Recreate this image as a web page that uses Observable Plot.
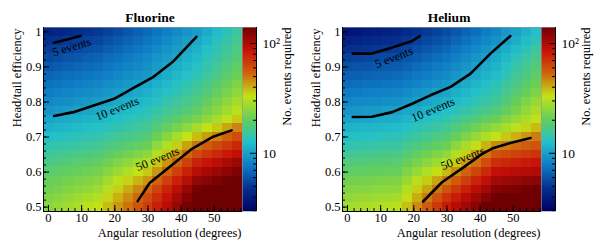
<!DOCTYPE html>
<html><head><meta charset="utf-8">
<script src="https://cdn.jsdelivr.net/npm/d3@7"></script>
<script src="https://cdn.jsdelivr.net/npm/@observablehq/plot@0.6"></script>
<style>
body{margin:0;background:#fff;}
#chart{position:relative;width:598px;height:244px;overflow:hidden;background:#fff;}
#chart > div{position:absolute;top:0;}
#chart svg, #chart svg text{font-family:"Liberation Serif","Times New Roman",serif !important;}
</style></head><body><div id="chart"></div>
<script>
// ---- data ----
const angles = [0,3,6,9,12,15,18,21,24,27,30,33,36,39,42,45,48,51,54,57];
const efficiencies = [1.0,0.975,0.95,0.925,0.9,0.875,0.85,0.825,0.8,0.775,0.75,0.725,0.7,0.675,0.65,0.625,0.6,0.575,0.55,0.525,0.5];

const fluorineEvents = [
[4.2,4.35,4.5,4.66,4.83,5.0,5.33,5.69,6.07,6.47,6.9,7.4,7.94,8.52,9.14,9.8,10.9,12.1,13.5,15],
[4.7,4.85,5.0,5.16,5.33,5.5,5.84,6.19,6.57,6.97,7.4,7.95,8.54,9.18,9.87,10.6,11.7,13,14.4,16],
[5.15,5.31,5.47,5.64,5.82,6.0,6.34,6.7,7.08,7.48,7.9,8.49,9.12,9.79,10.5,11.3,12.5,13.9,15.4,17],
[5.6,5.79,5.98,6.18,6.38,6.6,6.94,7.3,7.68,8.08,8.5,9.11,9.76,10.4,11.2,12,13.3,14.7,16.3,18],
[6.1,6.29,6.48,6.68,6.89,7.1,7.45,7.81,8.19,8.58,9.0,9.66,10.4,11.1,11.9,12.8,14.2,15.8,17.6,19.5],
[6.7,6.89,7.08,7.28,7.49,7.7,8.05,8.41,8.79,9.19,9.6,10.3,11.1,11.9,12.8,13.7,15.2,17,18.9,21],
[7.2,7.41,7.62,7.84,8.07,8.3,8.68,9.08,9.5,9.94,10.4,11.2,12,12.9,13.8,14.8,16.5,18.4,20.6,23],
[7.8,8.03,8.26,8.5,8.74,9,9.4,9.82,10.3,10.7,11.2,12,12.9,13.9,14.9,16,17.9,20,22.4,25],
[8.4,8.66,8.93,9.21,9.5,9.8,10.2,10.7,11.2,11.7,12.2,13.1,14.1,15.2,16.3,17.5,19.7,22.1,24.9,28],
[9.2,9.48,9.77,10.1,10.4,10.7,11.2,11.7,12.2,12.7,13.3,14.4,15.5,16.7,18.1,19.5,21.9,24.6,27.6,31],
[10.2,10.5,10.8,11.1,11.4,11.7,12.2,12.7,13.3,13.9,14.5,15.8,17.3,18.9,20.6,22.5,25.3,28.5,32,36],
[11.2,11.5,11.8,12.1,12.5,12.8,13.4,14,14.6,15.3,16,17.9,20,22.4,25,28,31.9,36.3,41.3,47],
[12.4,12.7,13.1,13.5,13.8,14.2,14.9,15.6,16.4,17.2,18,20.9,24.3,28.2,32.7,38,42.6,47.7,53.5,60],
[13.8,14.2,14.6,15,15.4,15.8,16.7,17.7,18.7,19.8,21,25,29.7,35.3,42,50,55.3,61.2,67.8,75],
[15.2,15.7,16.1,16.6,17.1,17.6,18.9,20.3,21.7,23.3,25,30,36,43.1,51.7,62,68.1,74.7,82,90],
[16.8,17.3,17.9,18.5,19.1,19.7,21.4,23.3,25.4,27.6,30,36.3,44,53.2,64.4,78,85,92.6,101,110],
[18.5,19.2,19.8,20.5,21.2,22,24.3,26.8,29.6,32.6,36,43.7,53.1,64.4,78.2,95,103,111,120,130],
[20,20.8,21.7,22.6,23.5,24.5,27.5,31,34.8,39.1,44,53.3,64.6,78.3,94.9,115,122,129,137,145],
[21.5,22.5,23.6,24.6,25.8,27,30.9,35.4,40.5,46.3,53,63.9,77,92.9,112,135,141,147,153,160],
[23,24.3,25.6,27,28.4,30,34.5,39.6,45.5,52.2,60,72.1,86.6,104,125,150,155,160,165,170],
[24.5,26,27.6,29.3,31.1,33,37.9,43.5,50,57.4,66,78.8,94,112,134,160,165,170,175,180]
];

const heliumEvents = [
[3.6,3.73,3.87,4.0,4.15,4.3,4.55,4.81,5.09,5.39,5.7,6.16,6.66,7.19,7.77,8.4,9.28,10.2,11.3,12.5],
[4.1,4.21,4.33,4.45,4.58,4.7,4.97,5.25,5.55,5.87,6.2,6.68,7.2,7.75,8.35,9,9.96,11,12.2,13.5],
[4.7,4.79,4.87,4.96,5.05,5.15,5.44,5.76,6.09,6.43,6.8,7.33,7.9,8.52,9.18,9.9,11,12.2,13.5,15],
[5.3,5.38,5.46,5.54,5.62,5.7,6.01,6.33,6.66,7.02,7.4,7.97,8.58,9.23,9.94,10.7,11.9,13.3,14.8,16.5],
[5.9,5.98,6.06,6.14,6.22,6.3,6.61,6.93,7.27,7.63,8,8.6,9.25,9.95,10.7,11.5,12.9,14.4,16.1,18],
[6.4,6.5,6.6,6.69,6.8,6.9,7.21,7.54,7.87,8.23,8.6,9.24,9.92,10.7,11.4,12.3,13.8,15.5,17.4,19.5],
[7,7.1,7.2,7.3,7.4,7.5,7.85,8.21,8.59,8.98,9.4,10.1,10.8,11.6,12.4,13.3,14.9,16.7,18.7,21],
[7.7,7.8,7.9,8,8.1,8.2,8.6,9.02,9.46,9.92,10.4,11.1,11.8,12.6,13.5,14.4,16.2,18.2,20.5,23],
[8.4,8.52,8.63,8.75,8.88,9,9.42,9.86,10.3,10.8,11.3,12.1,12.9,13.7,14.6,15.6,17.7,20.1,22.9,26],
[9.2,9.35,9.51,9.67,9.83,10,10.5,10.9,11.4,12,12.5,13.4,14.3,15.3,16.4,17.5,19.9,22.5,25.6,29],
[10.2,10.4,10.5,10.7,10.8,11,11.5,12.1,12.7,13.3,14,15.2,16.5,17.9,19.4,21,23.3,25.9,28.8,32],
[11.3,11.5,11.7,11.8,12,12.2,12.8,13.5,14.2,15,15.8,17.5,19.3,21.3,23.5,26,28.6,31.4,34.6,38],
[12.5,12.7,12.9,13.1,13.3,13.5,14.3,15.1,16,17,18,20.3,22.9,25.9,29.2,33,36.2,39.8,43.7,48],
[14,14.2,14.4,14.6,14.8,15,16,17.2,18.4,19.6,21,24.6,28.7,33.6,39.3,46,48.7,51.7,54.8,58],
[15.5,15.7,16,16.2,16.5,16.7,18.1,19.6,21.3,23.1,25,29.6,35,41.4,49,58,60.8,63.7,66.8,70],
[17.5,17.7,17.9,18.1,18.3,18.5,20.4,22.4,24.7,27.2,30,35.7,42.6,50.7,60.4,72,75,78.2,81.5,85],
[19.5,19.7,19.9,20.1,20.3,20.5,23.2,26.2,29.7,33.6,38,45,53.2,62.9,74.4,88,90.9,93.8,96.9,100],
[21.5,21.8,22.1,22.4,22.7,23,26.6,30.9,35.8,41.4,48,56.1,65.7,76.8,89.8,105,109,112,116,120],
[23.5,23.9,24.3,24.7,25.1,25.5,30.1,35.4,41.7,49.2,58,67.6,78.9,91.9,107,125,129,132,136,140],
[25.5,26,26.5,27,27.5,28,33.6,40.4,48.5,58.3,70,81,93.7,108,125,145,147,150,152,155],
[27.5,28.2,28.9,29.6,30.3,31,37.7,45.7,55.6,67.5,82,93.7,107,122,140,160,162,165,167,170]
];

// contour polylines: [angle, efficiency]
const fluorine5  = [[1.7,0.969],[9.7,0.988]];
const fluorine10 = [[1.7,0.760],[7.5,0.771],[19.8,0.809],[25.8,0.841],[31.4,0.870],[37.4,0.914],[44.6,0.986]];
const fluorine50 = [[26.9,0.517],[30.5,0.569],[36.4,0.614],[42.9,0.664],[49.4,0.700],[55.2,0.719]];
const helium5  = [[1.6,0.938],[7.4,0.938],[13.0,0.954],[19.5,0.974],[21.8,0.988]];
const helium10 = [[1.6,0.757],[7.4,0.758],[13.5,0.771],[19.5,0.795],[25.0,0.819],[31.1,0.843],[37.1,0.881],[43.1,0.938],[49.1,0.988]];
const helium50 = [[22.8,0.516],[28.5,0.571],[35.1,0.614],[40.6,0.652],[43.6,0.667],[49.1,0.683],[55.2,0.697]];
const contourNames = ["5 events","10 events","50 events"];
// label anchor points [angle, efficiency]
const fluorineLabelAt = [[7.0,0.957],[20.7,0.781],[32.9,0.637]];
const heliumLabelAt   = [[14.0,0.927],[25.8,0.778],[34.7,0.639]];

const xTicks = [0,10,20,30,40,50];
const xMinor = [0,2,4,6,8,10,12,14,16,18,20,22,24,26,28,30,32,34,36,38,40,42,44,46,48,50,52,54,56,58];
const yTicks = [0.5,0.6,0.7,0.8,0.9,1.0];
const yMinor = [0.5,0.52,0.54,0.56,0.58,0.6,0.62,0.64,0.66,0.68,0.7,0.72,0.74,0.76,0.78,0.8,0.82,0.84,0.86,0.88,0.9,0.92,0.94,0.96,0.98,1.0];
const cbTicks = [10,100];
const cbTickLabels = ["10","10²"];
const cbMinor = [3,4,5,6,7,8,9,20,30,40,50,60,70,80,90];
const titles = ["Fluorine","Helium"];

// ---- styling ----
const FONT = "Liberation Serif";
const W = 299, H = 244, ML = 43, MR = 57, MT = 27, MB = 33;
const FW = W - ML - MR, FH = H - MT - MB;
const CBW = 14;
const zDomain = [2.95, 140];
const rainbow = d3.piecewise(d3.interpolateRgb, [
  "rgb(0,0,99)","rgb(5,48,142)","rgb(15,124,198)","rgb(35,192,201)","rgb(102,206,90)",
  "rgb(196,226,22)","rgb(208,97,13)","rgb(199,16,8)","rgb(110,0,2)"]);
const colorOpt = {type: "log", domain: zDomain, clamp: true, interpolate: rainbow};
const labelAngles = [-17, -22, -22];
const heliumLabelAngles = [-21, -23, -21];
const halfA = (angles[1] - angles[0]) / 2;
const halfE = (efficiencies[0] - efficiencies[1]) / 2;
const txt = {fontFamily: FONT, fill: "black"};

function cells(matrix) {
  const out = [];
  efficiencies.forEach((e, i) => angles.forEach((a, j) => out.push({a, e, n: matrix[i][j]})));
  return out;
}

function panel(title, matrix, contours, labelAt, angles_) {
  const labels = labelAt.map((p, i) => ({x: p[0], y: p[1], t: contourNames[i], r: angles_[i]}));
  return Plot.plot({
    width: W, height: H, marginLeft: ML, marginRight: MR, marginTop: MT, marginBottom: MB,
    style: {fontFamily: FONT, fontSize: "13px", background: "transparent", color: "black", overflow: "visible"},
    x: {domain: [angles[0] - halfA, angles[angles.length - 1] + halfA]},
    y: {domain: [efficiencies[efficiencies.length - 1] - halfE, efficiencies[0] + halfE]},
    color: colorOpt,
    marks: [
      Plot.rect(cells(matrix), {x1: d => d.a - halfA, x2: d => d.a + halfA, y1: d => d.e - halfE, y2: d => d.e + halfE, fill: "n", shapeRendering: "crispEdges"}),
      ...contours.map(c => Plot.line(c, {x: d => d[0], y: d => d[1], stroke: "black", strokeWidth: 2.6, strokeLinejoin: "round"})),
      ...labels.map(l => Plot.text([l], {x: "x", y: "y", text: "t", rotate: l.r, fontSize: 12, ...txt})),
      Plot.frame({stroke: "#999", strokeWidth: 0.6}),
      Plot.ruleX(xMinor, {x: d => d, insetTop: FH - 3, stroke: "black"}),
      Plot.ruleX(xTicks, {x: d => d, insetTop: FH - 6, stroke: "black"}),
      Plot.ruleY(yMinor, {y: d => d, insetRight: FW - 3, stroke: "black"}),
      Plot.ruleY(yTicks, {y: d => d, insetRight: FW - 6, stroke: "black"}),
      Plot.ruleX([angles[0] - halfA], {stroke: "black"}),
      Plot.ruleY([efficiencies[efficiencies.length - 1] - halfE], {stroke: "black"}),
      Plot.axisX({ticks: xTicks, tickSize: 0, tickPadding: 2, label: null, tickFormat: d => String(d), fontSize: 12.5, fontFamily: FONT}),
      Plot.axisY({ticks: yTicks, tickSize: 0, tickPadding: 2, label: null, tickFormat: d => d === 1 ? "1" : d.toFixed(1), fontSize: 12.5, fontFamily: FONT}),
      Plot.text([title], {frameAnchor: "top", text: d => d, dx: 7, dy: -10, fontWeight: "bold", fontSize: 13.5, lineAnchor: "middle", ...txt}),
      Plot.text(["Angular resolution (degrees)"], {frameAnchor: "bottom-right", text: d => d, dx: -1, dy: 21, textAnchor: "end", lineAnchor: "middle", fontSize: 12.5, ...txt}),
      Plot.text(["Head/tail efficiency"], {frameAnchor: "top-left", text: d => d, dx: -27, dy: 1, rotate: -90, textAnchor: "end", lineAnchor: "middle", fontSize: 12.5, ...txt})
    ]
  });
}

function colorbar() {
  const lo = Math.log10(zDomain[0]), hi = Math.log10(zDomain[1]), N = 184;
  const ramp = d3.range(N).map(i => {
    const y1 = 10 ** (lo + (hi - lo) * i / N), y2 = 10 ** (lo + (hi - lo) * (i + 1) / N);
    return {y1, y2, v: Math.sqrt(y1 * y2)};
  });
  return Plot.plot({
    width: CBW + 43, height: H, marginLeft: 0, marginRight: 43, marginTop: MT, marginBottom: MB,
    style: {fontFamily: FONT, fontSize: "13px", background: "transparent", color: "black", overflow: "visible"},
    x: {domain: [0, 1], axis: null},
    y: {type: "log", domain: zDomain},
    color: colorOpt,
    marks: [
      Plot.rect(ramp, {x1: 0, x2: 1, y1: "y1", y2: "y2", fill: "v", shapeRendering: "crispEdges"}),
      Plot.frame({stroke: "#999", strokeWidth: 0.6}),
      Plot.ruleX([1], {stroke: "black"}),
      Plot.ruleY(cbMinor, {y: d => d, insetLeft: CBW - 3, stroke: "black"}),
      Plot.ruleY(cbTicks, {y: d => d, insetLeft: CBW - 6, stroke: "black"}),
      Plot.axisY({anchor: "right", ticks: cbTicks, tickSize: 0, tickPadding: 6, label: null, tickFormat: d => cbTickLabels[cbTicks.indexOf(d)], fontSize: 13.5, fontFamily: FONT}),
      Plot.text(["No. events required"], {frameAnchor: "top-right", text: d => d, dx: 30, dy: 0, rotate: -90, textAnchor: "end", lineAnchor: "middle", fontSize: 12.5, ...txt})
    ]
  });
}

const chart = document.getElementById("chart");
function place(node, left) {
  const d = document.createElement("div");
  d.style.left = left + "px";
  d.appendChild(node);
  chart.appendChild(d);
}
place(panel(titles[0], fluorineEvents, [fluorine5, fluorine10, fluorine50], fluorineLabelAt, labelAngles), 0);
place(colorbar(), W - MR);
place(panel(titles[1], heliumEvents, [helium5, helium10, helium50], heliumLabelAt, heliumLabelAngles), 299);
place(colorbar(), 299 + W - MR);
</script></body></html>
